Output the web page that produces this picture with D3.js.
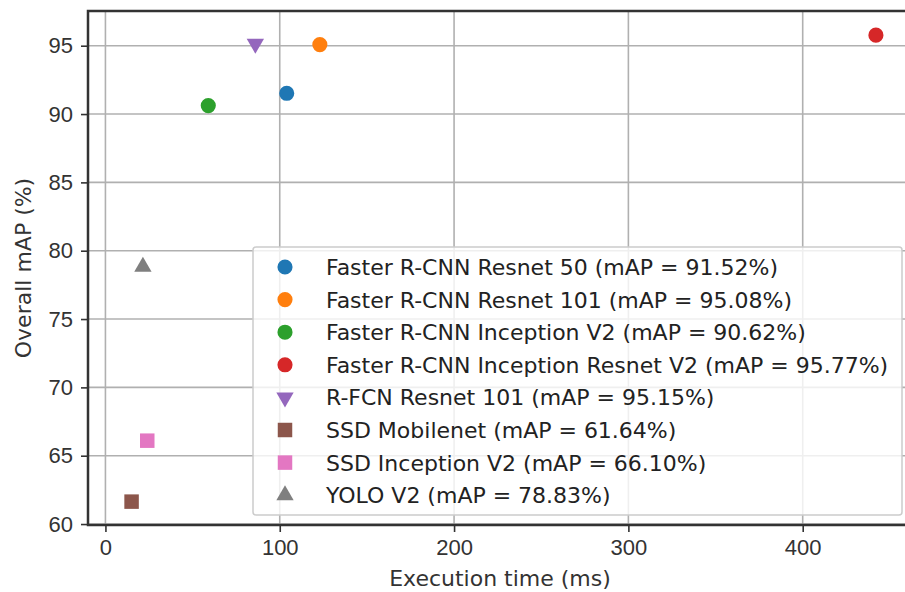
<head>
<meta charset="UTF-8">
<title>Execution time vs mAP</title>
<script src="https://d3js.org/d3.v7.min.js"></script>
<style>
  body { margin: 0; background: #fff; overflow: hidden; }
  svg { display: block; font-family: "DejaVu Sans", sans-serif; }
</style>
</head>
<body>
<svg width="905" height="592"></svg>
<script>
// model names, execution time (ms), overall mAP (%)
const models = [
  "Faster R-CNN Resnet 50",
  "Faster R-CNN Resnet 101",
  "Faster R-CNN Inception V2",
  "Faster R-CNN Inception Resnet V2",
  "R-FCN Resnet 101",
  "SSD Mobilenet",
  "SSD Inception V2",
  "YOLO V2"
];
const execTimes = [104, 123, 59, 442, 86, 15, 24, 21.5];
const mAPs = [91.52, 95.08, 90.62, 95.77, 95.15, 61.64, 66.10, 78.83];
const shapes = ["circle", "circle", "circle", "circle", "triangleDown", "square", "square", "triangleUp"];
const colors = ["#1f77b4", "#ff7f0e", "#2ca02c", "#d62728", "#9467bd", "#8c564b", "#e377c2", "#7f7f7f"];
const xTicks = [0, 100, 200, 300, 400];
const yTicks = [60, 65, 70, 75, 80, 85, 90, 95];

const svg = d3.select("svg");
// the plot's right edge runs just past the picture edge
const margin = {top: 11, right: -7, bottom: 67, left: 88};
const width = +svg.attr("width"), height = +svg.attr("height");

const x = d3.scaleLinear().domain([-10, 462.7]).range([margin.left, width - margin.right]);
const y = d3.scaleLinear().domain([59.93, 97.54]).range([height - margin.bottom, margin.top]);

// grid
const grid = svg.append("g").attr("stroke", "#b0b0b0").attr("stroke-width", 1.6);
grid.selectAll(".gx").data(xTicks).join("line")
  .attr("x1", d => x(d)).attr("x2", d => x(d))
  .attr("y1", y.range()[0]).attr("y2", y.range()[1]);
grid.selectAll(".gy").data(yTicks).join("line")
  .attr("y1", d => y(d)).attr("y2", d => y(d))
  .attr("x1", x.range()[0]).attr("x2", x.range()[1]);

// axes
const xAxis = svg.append("g")
  .attr("transform", `translate(0,${y.range()[0]})`)
  .call(d3.axisBottom(x).tickValues(xTicks).tickSize(7).tickPadding(7));
const yAxis = svg.append("g")
  .attr("transform", `translate(${x.range()[0]},0)`)
  .call(d3.axisLeft(y).tickValues(yTicks).tickSize(7).tickPadding(8));
[xAxis, yAxis].forEach(a => {
  a.select(".domain").remove();
  a.selectAll(".tick line").attr("stroke", "#333").attr("stroke-width", 1.6);
  a.selectAll(".tick text").attr("fill", "#333").attr("font-size", 22);
});

// frame
svg.append("rect")
  .attr("x", x.range()[0]).attr("y", y.range()[1])
  .attr("width", x.range()[1] - x.range()[0])
  .attr("height", y.range()[0] - y.range()[1])
  .attr("fill", "none").attr("stroke", "#333").attr("stroke-width", 2.5);

// axis labels
svg.append("text")
  .attr("x", (x.range()[0] + x.range()[1]) / 2).attr("y", 586)
  .attr("text-anchor", "middle").attr("font-size", 22).attr("fill", "#333")
  .text("Execution time (ms)");
svg.append("text")
  .attr("transform", `translate(31,${(y.range()[0] + y.range()[1]) / 2}) rotate(-90)`)
  .attr("text-anchor", "middle").attr("font-size", 22).attr("fill", "#333")
  .text("Overall mAP (%)");

function symbolPath(shape) {
  if (shape === "circle") return d3.symbol(d3.symbolCircle, 180)();
  if (shape === "square") return d3.symbol(d3.symbolSquare, 210)();
  return d3.symbol(d3.symbolTriangle, 130)();
}
function symbolRot(shape) { return shape === "triangleDown" ? " rotate(180)" : ""; }

// points
svg.append("g").selectAll("path").data(models).join("path")
  .attr("d", (d, i) => symbolPath(shapes[i]))
  .attr("transform", (d, i) => `translate(${x(execTimes[i])},${y(mAPs[i])})${symbolRot(shapes[i])}`)
  .attr("fill", (d, i) => colors[i]);

// legend
const legend = svg.append("g");
legend.append("rect")
  .attr("x", 253).attr("y", 247).attr("width", 649).attr("height", 268).attr("rx", 3)
  .attr("fill", "#fff").attr("fill-opacity", 0.8)
  .attr("stroke", "#cccccc").attr("stroke-width", 1.5);
const rows = legend.selectAll("g.row").data(models).join("g")
  .attr("transform", (d, i) => `translate(285,${267 + i * 32.6})`);
rows.append("path")
  .attr("d", (d, i) => symbolPath(shapes[i]))
  .attr("transform", (d, i) => symbolRot(shapes[i]).trim())
  .attr("fill", (d, i) => colors[i]);
rows.append("text")
  .attr("x", 41).attr("dy", "0.36em")
  .attr("font-size", 22).attr("fill", "#222")
  .text((d, i) => `${d} (mAP = ${mAPs[i].toFixed(2)}%)`);
</script>
</body>
